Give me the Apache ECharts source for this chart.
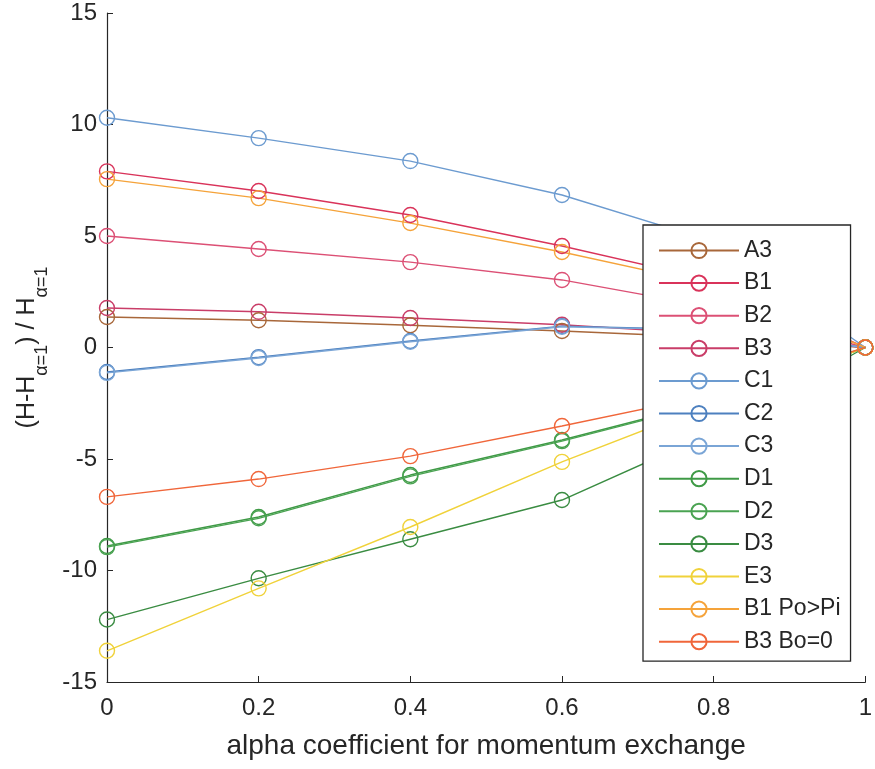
<!DOCTYPE html>
<html>
<head>
<meta charset="utf-8">
<script src="https://cdn.jsdelivr.net/npm/echarts@6/dist/echarts.min.js"></script>
<style>
  html, body { margin: 0; padding: 0; background: #fff; }
  #chart { width: 875px; height: 769px; }
</style>
</head>
<body>
<div id="chart"></div>
<script>
// alpha coefficient values on the horizontal axis
const alphaValues = [0, 0.2, 0.4, 0.6, 0.8, 1];
const xTicks = ['0', '0.2', '0.4', '0.6', '0.8', '1'];
const yTicks = [-15, -10, -5, 0, 5, 10, 15];

// relative head change per case
const seriesNames = ['A3', 'B1', 'B2', 'B3', 'C1', 'C2', 'C3', 'D1', 'D2', 'D3', 'E3', 'B1 Po>Pi', 'B3 Bo=0'];
const A3 = [1.37, 1.22, 1.0, 0.74, 0.45, 0];
const B1 = [7.9, 7.02, 5.94, 4.55, 3.0, 0];
const B2 = [5.0, 4.42, 3.83, 3.03, 1.8, 0];
const B3 = [1.77, 1.6, 1.32, 1.02, 0.6, 0];
const C1 = [10.3, 9.39, 8.36, 6.84, 4.75, 0];
const C2 = [-1.1, -0.43, 0.29, 0.96, 0.8, 0];
const C3 = [-1.14, -0.47, 0.26, 0.93, 0.78, 0];
const D1 = [-8.9, -7.6, -5.72, -4.15, -2.4, 0];
const D2 = [-8.95, -7.66, -5.78, -4.2, -2.45, 0];
const D3 = [-12.2, -10.35, -8.6, -6.84, -3.8, 0];
const E3 = [-13.6, -10.8, -8.05, -5.13, -2.5, 0];
const B1PoPi = [7.55, 6.7, 5.58, 4.28, 2.8, 0];
const B3Bo0 = [-6.7, -5.9, -4.87, -3.52, -2.1, 0];

const seriesValues = [A3, B1, B2, B3, C1, C2, C3, D1, D2, D3, E3, B1PoPi, B3Bo0];
const seriesColors = ['#a8673a', '#d9335a', '#dc5075', '#c93d68', '#6c9bd0', '#4d80bf', '#7aa5d6',
                      '#3f9a46', '#4aa352', '#3a8c42', '#f0d23a', '#f5a33a', '#f0663a'];

const FONT = 'Liberation Sans, Arial, sans-serif';
const INK = '#262626';

const series = seriesNames.map((name, i) => ({
  name: name,
  type: 'line',
  data: alphaValues.map((a, j) => [a, seriesValues[i][j]]),
  symbol: 'circle',
  symbolSize: 15,
  showSymbol: true,
  lineStyle: { color: seriesColors[i], width: 1.4 },
  itemStyle: { color: 'rgba(255,255,255,0)', borderColor: seriesColors[i], borderWidth: 1.4 },
  emphasis: { disabled: true },
  z: 2
}));

const chart = echarts.init(document.getElementById('chart'), null, { renderer: 'canvas' });
chart.setOption({
  backgroundColor: '#fff',
  animation: false,
  grid: { left: 107, right: 1, top: 13, bottom: 87, containLabel: false },
  xAxis: {
    type: 'value',
    min: 0, max: 1, interval: 0.2,
    name: 'alpha coefficient for momentum exchange',
    nameLocation: 'middle',
    nameGap: 50,
    nameTextStyle: { fontFamily: FONT, fontSize: 28, color: INK },
    axisLine: { show: true, onZero: false, lineStyle: { color: INK, width: 1.2 } },
    axisTick: { show: true, inside: true, length: 6, lineStyle: { color: INK } },
    axisLabel: {
      show: true, margin: 14, fontFamily: FONT, fontSize: 24, color: INK,
      formatter: v => xTicks[Math.round(v / 0.2)]
    },
    splitLine: { show: false }
  },
  yAxis: {
    type: 'value',
    min: yTicks[0], max: yTicks[yTicks.length - 1], interval: 5,
    name: '{m|(H-H}{s|α=1}{m|) / H}{s|α=1}',
    nameLocation: 'middle',
    nameGap: 50,
    nameTextStyle: {
      fontFamily: FONT, color: INK,
      rich: {
        m: { fontFamily: FONT, fontSize: 25, color: INK, lineHeight: 26, verticalAlign: 'top' },
        s: { fontFamily: FONT, fontSize: 18, color: INK, lineHeight: 37, verticalAlign: 'bottom' }
      }
    },
    axisLine: { show: true, onZero: false, lineStyle: { color: INK, width: 1.2 } },
    axisTick: { show: true, inside: true, length: 6, lineStyle: { color: INK } },
    axisLabel: { show: true, margin: 10, fontFamily: FONT, fontSize: 24, color: INK },
    splitLine: { show: false }
  },
  legend: {
    orient: 'vertical',
    left: 643,
    top: 225,
    data: seriesNames,
    itemWidth: 80,
    itemHeight: 19,
    itemGap: 9.6,
    padding: [14, 10, 8, 15],
    backgroundColor: '#fff',
    borderColor: INK,
    borderWidth: 1.3,
    borderRadius: 0,
    selectedMode: false,
    textStyle: { fontFamily: FONT, fontSize: 23, color: INK }
  },
  series: series
});
</script>
</body>
</html>
